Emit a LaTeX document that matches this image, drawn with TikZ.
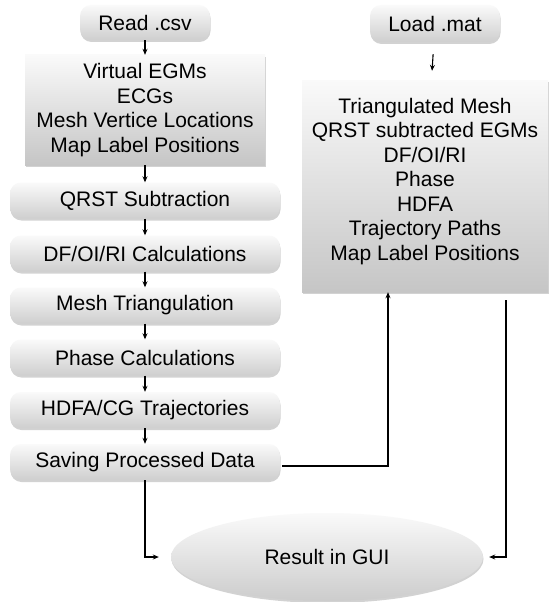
\documentclass[tikz,border=0pt]{standalone}
\usepackage{fontspec}
\setmainfont{Liberation Sans}
\usetikzlibrary{arrows.meta,shapes.geometric,shadows,calc}
\tikzset{
  base/.style={inner sep=0pt, align=center, font=\fontsize{21}{24.5}\selectfont,
    drop shadow={opacity=0.35, shadow xshift=0.5pt, shadow yshift=-2pt}},
  rbox/.style={base, rounded corners=11pt, top color=gray!4, bottom color=gray!38,
    minimum width=270pt, minimum height=36pt},
  sbox/.style={base, top color=gray!4, bottom color=gray!45},
  arr/.style={draw=black, line width=1.1pt, -{Stealth[length=6pt,width=5pt]}},
  ln/.style={draw=black, line width=1.1pt}
}
\begin{document}
\begin{tikzpicture}[x=1pt,y=-1pt]
\useasboundingbox[fill=white] (0,0) rectangle (556,602);
% left column
\node[rbox, minimum width=130pt, minimum height=35pt] (read) at (145,22.5) {Read .csv};
\node[sbox, minimum width=240pt, minimum height=110pt] (virt) at (145,110)
  {Virtual EGMs\\ECGs\\Mesh Vertice Locations\\Map Label Positions};
\node[rbox] (qrst) at (145,200.5) {QRST Subtraction};
\node[rbox] (df) at (145,253.5) {DF/OI/RI Calculations};
\node[rbox] (mesh) at (145,305.5) {Mesh Triangulation};
\node[rbox] (phase) at (145,357.5) {Phase Calculations};
\node[rbox] (hdfa) at (145,410) {HDFA/CG Trajectories};
\node[rbox] (save) at (145,462) {Saving Processed Data};
% right column
\node[rbox, minimum width=130pt, minimum height=37pt] (load) at (435,23.5) {Load .mat};
\node[sbox, minimum width=246pt, minimum height=212pt, text depth=14pt] (rbig) at (425,186)
  {Triangulated Mesh\\QRST subtracted EGMs\\DF/OI/RI\\Phase\\HDFA\\Trajectory Paths\\Map Label Positions};
% result
\node[base, ellipse, top color=gray!4, bottom color=gray!40, minimum width=312pt, minimum height=88pt] (gui) at (327,557) {Result in GUI};
% connectors
\draw[arr] (read) -- (virt);
\draw[arr] (virt) -- (qrst);
\draw[arr] (qrst) -- (df);
\draw[arr] (df) -- (mesh);
\draw[arr] (mesh) -- (phase);
\draw[arr] (phase) -- (hdfa);
\draw[arr] (hdfa) -- (save);
\draw[arr, shorten <=12pt, shorten >=9pt] (load) -- (rbig);
\coordinate (c1) at (388,466);
\coordinate (c2) at (506,557);
\draw[arr, shorten <=2pt] (save.east |- c1) -- (c1) -- (c1 |- rbig.south);
\draw[arr, shorten <=8pt, shorten >=6pt] (rbig.south -| c2) -- (c2) -- (gui.east);
\draw[arr, shorten >=12pt] (save.south) |- (gui.west);
\end{tikzpicture}
\end{document}
